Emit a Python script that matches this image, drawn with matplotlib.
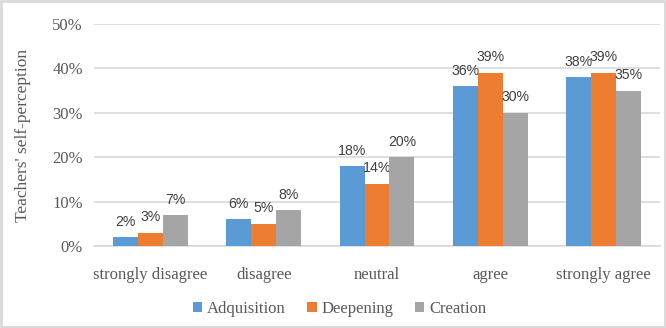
import matplotlib; matplotlib.use("Agg")
import matplotlib.pyplot as plt
import numpy as np
from matplotlib.patches import Rectangle
from matplotlib.ticker import PercentFormatter

categories = ["strongly disagree", "disagree", "neutral", "agree", "strongly agree"]
adquisition = [2, 6, 18, 36, 38]
deepening = [3, 5, 14, 39, 39]
creation = [7, 8, 20, 30, 35]
series_names = ["Adquisition", "Deepening", "Creation"]
colors = ["#5B9BD5", "#ED7D31", "#A5A5A5"]

plt.rcParams["font.family"] = ["Liberation Serif", "DejaVu Serif"]
fig = plt.figure(figsize=(6.66, 3.28), dpi=100)
ax = fig.add_axes([0.141, 0.25, 0.85, 0.677])

x = np.arange(len(categories))
w = 0.22
for i, (vals, name, c) in enumerate(zip([adquisition, deepening, creation], series_names, colors)):
    pos = x + (i - 1) * w
    ax.bar(pos, [v / 100 for v in vals], w, color=c, label=name, zorder=3)
    for p, v in zip(pos, vals):
        ax.annotate(f"{v}%", (p, v / 100), xytext=(0, 6), textcoords="offset points",
                    ha="center", va="bottom", fontsize=10.2, color="#404040",
                    family="Liberation Sans")

ax.set_xlim(-0.5, len(categories) - 0.5)
ax.set_ylim(0, 0.5)
ax.set_yticks(np.arange(0, 0.51, 0.1))
ax.yaxis.set_major_formatter(PercentFormatter(1.0, decimals=0))
ax.grid(axis="y", color="#D9D9D9", lw=1.2, zorder=0)
for s in ["top", "right", "left"]:
    ax.spines[s].set_visible(False)
ax.spines["bottom"].set_color("#D9D9D9")
ax.spines["bottom"].set_linewidth(1.2)
ax.set_xticks(x)
ax.set_xticklabels(categories)
ax.tick_params(length=0)
ax.tick_params(axis="y", pad=8)
ax.tick_params(axis="x", pad=15)
for lab in ax.get_xticklabels() + ax.get_yticklabels():
    lab.set_fontsize(12)
    lab.set_color("#595959")
ax.set_ylabel("Teachers' self-perception", fontsize=12.5, color="#595959", labelpad=15)

leg = fig.legend(loc="lower center", bbox_to_anchor=(0.51, -0.012), ncol=3, frameon=False,
                 prop={"size": 12}, handlelength=0.55, handleheight=0.55,
                 handletextpad=0.3, columnspacing=1.3)
for t in leg.get_texts():
    t.set_color("#595959")

fig.patches.append(Rectangle((0.002, 0.004), 0.996, 0.992, transform=fig.transFigure,
                             fill=False, ec="#D9D9D9", lw=2))

fig.savefig("out.png", dpi=100)
